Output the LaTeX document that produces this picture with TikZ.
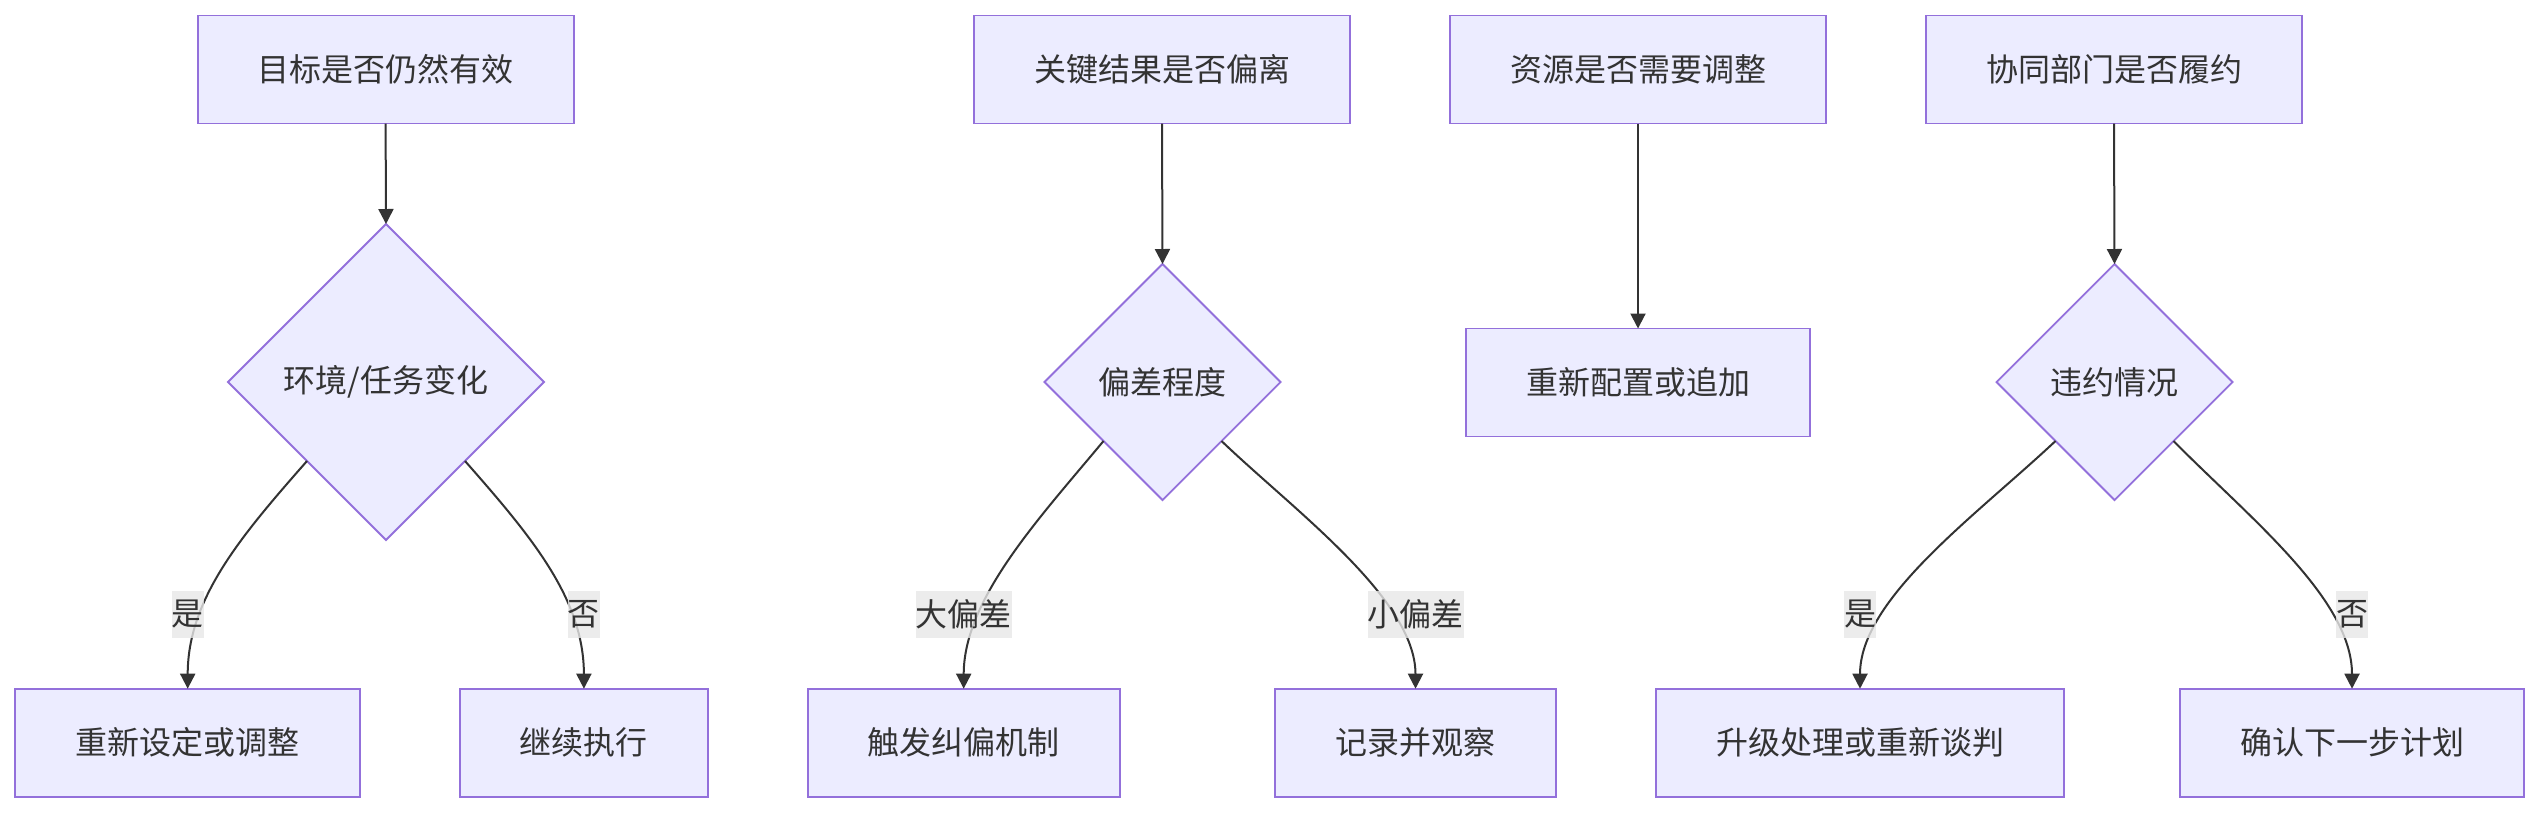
\documentclass[tikz,border=0pt]{standalone}
\usepackage{fontspec}
\setmainfont{Noto Sans CJK SC}
\usetikzlibrary{shapes.geometric,arrows.meta}
\definecolor{nodefill}{HTML}{ECECFF}
\definecolor{nodeline}{HTML}{9370DB}
\definecolor{ink}{HTML}{333333}
\definecolor{lblbg}{HTML}{E8E8E8}
\begin{document}
\begin{tikzpicture}[x=1pt,y=-1pt,
  txt/.style={text=ink,font=\fontsize{32}{38}\selectfont},
  box/.style={txt,rectangle,draw=nodeline,fill=nodefill,line width=1.8pt,minimum height=108pt,inner sep=0pt,outer sep=0pt},
  dec/.style={txt,diamond,aspect=1,draw=nodeline,fill=nodefill,line width=1.8pt,inner sep=0pt,outer sep=0pt},
  edge/.style={draw=ink,line width=2pt,-{Triangle[length=15pt,width=15pt]}},
  lbl/.style={txt,fill=lblbg,fill opacity=0.8,text opacity=1,inner xsep=0pt,inner ysep=0pt,minimum height=47pt}
]
\useasboundingbox (0,0) rectangle (2540,812);
\fill[white] (0,0) rectangle (2540,812);

% top boxes
\node[box,minimum width=376pt] (t1) at (385.6,69.5) {目标是否仍然有效};
\node[box,minimum width=376pt] (t2) at (1162,69.5) {关键结果是否偏离};
\node[box,minimum width=376pt] (t3) at (1638,69.5) {资源是否需要调整};
\node[box,minimum width=376pt] (t4) at (2114,69.5) {协同部门是否履约};

% decisions
\node[dec,minimum width=316pt,minimum height=316pt] (d1) at (386,382) {环境/任务变化};
\node[dec,minimum width=236pt,minimum height=236pt] (d2) at (1162.5,382) {偏差程度};
\node[dec,minimum width=236pt,minimum height=236pt] (d4) at (2114.5,382) {违约情况};
\node[box,minimum width=344pt] (r3) at (1638,382.5) {重新配置或追加};

% bottom boxes
\node[box,minimum width=345pt] (b11) at (187.7,742.7) {重新设定或调整};
\node[box,minimum width=248pt] (b12) at (583.9,742.7) {继续执行};
\node[box,minimum width=312pt] (b21) at (963.7,742.7) {触发纠偏机制};
\node[box,minimum width=281pt] (b22) at (1415.5,742.7) {记录并观察};
\node[box,minimum width=408pt] (b41) at (1860,742.7) {升级处理或重新谈判};
\node[box,minimum width=344pt] (b42) at (2352,742.7) {确认下一步计划};

% straight edges
\draw[edge] (t1.south) -- (d1.north);
\draw[edge] (t2.south) -- (d2.north);
\draw[edge] (t3.south) -- (r3.north);
\draw[edge] (t4.south) -- (d4.north);

% curved edges
\draw[edge] (d1.south west) .. controls +(-66,75) and +(0,-90) .. (b11.north);
\draw[edge] (d1.south east) .. controls +(66,75) and +(0,-90) .. (b12.north);
\draw[edge] (d2.south west) .. controls +(-64,77) and +(0,-90) .. (b21.north);
\draw[edge] (d2.south east) .. controls +(72,69) and +(0,-90) .. (b22.north);
\draw[edge] (d4.south west) .. controls +(-80,75) and +(0,-90) .. (b41.north);
\draw[edge] (d4.south east) .. controls +(76,77) and +(0,-90) .. (b42.north);

% labels
\node[lbl] (l11) at (187.7,614) {是};
\node[lbl] (l12) at (583.9,614) {否};
\node[lbl] (l21) at (963.7,614) {大偏差};
\node[lbl] (l22) at (1415.5,614) {小偏差};
\node[lbl] (l41) at (1860,614) {是};
\node[lbl] (l42) at (2352,614) {否};
\end{tikzpicture}
\end{document}
